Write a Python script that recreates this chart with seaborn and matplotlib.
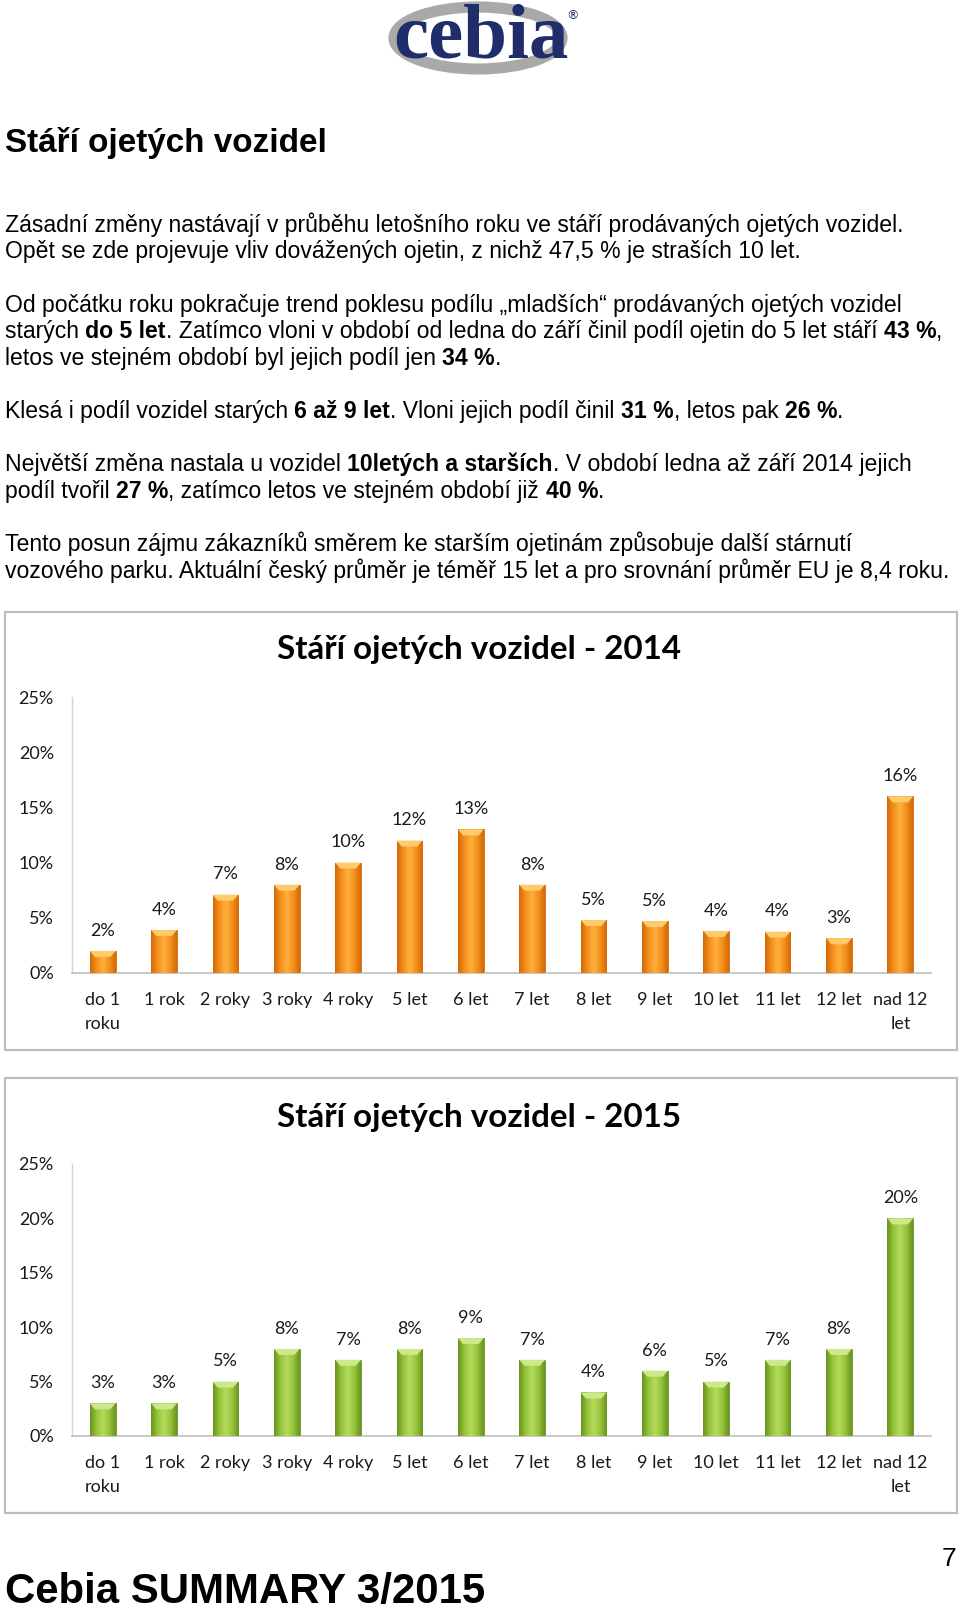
import numpy as np
import pandas as pd
import matplotlib
matplotlib.use("Agg")
import matplotlib.pyplot as plt
import seaborn as sns
from matplotlib.patches import Rectangle, Ellipse, Polygon
from matplotlib.colors import LinearSegmentedColormap

# ---------------- data ----------------
categories = ["do 1\nroku", "1 rok", "2 roky", "3 roky", "4 roky", "5 let", "6 let",
              "7 let", "8 let", "9 let", "10 let", "11 let", "12 let", "nad 12\nlet"]
values_2014 = [2.0, 3.9, 7.1, 8.0, 10.0, 12.0, 13.0, 8.0, 4.8, 4.7, 3.8, 3.75, 3.15, 16.0]
values_2015 = [3.0, 3.0, 5.0, 8.0, 7.0, 8.0, 9.0, 7.0, 4.0, 6.0, 5.0, 7.0, 8.0, 20.0]
y_ticks = [0, 5, 10, 15, 20, 25]
y_tick_labels = ["0%", "5%", "10%", "15%", "20%", "25%"]
titles = ["Stáří ojetých vozidel - 2014", "Stáří ojetých vozidel - 2015"]

heading = "Stáří ojetých vozidel"
paragraph_lines = [
    [("Zásadní změny nastávají v průběhu letošního roku ve stáří prodávaných ojetých vozidel.", False)],
    [("Opět se zde projevuje vliv dovážených ojetin, z nichž 47,5 % je straších 10 let.", False)],
    [("Od počátku roku pokračuje trend poklesu podílu „mladších“ prodávaných ojetých vozidel", False)],
    [("starých ", False), ("do 5 let", True), (". Zatímco vloni v období od ledna do září činil podíl ojetin do 5 let stáří ", False), ("43 %", True), (",", False)],
    [("letos ve stejném období byl jejich podíl jen ", False), ("34 %", True), (".", False)],
    [("Klesá i podíl vozidel starých ", False), ("6 až 9 let", True), (". Vloni jejich podíl činil ", False), ("31 %", True), (", letos pak ", False), ("26 %", True), (".", False)],
    [("Největší změna nastala u vozidel ", False), ("10letých a starších", True), (". V období ledna až září 2014 jejich", False)],
    [("podíl tvořil ", False), ("27 %", True), (", zatímco letos ve stejném období již ", False), ("40 %", True), (".", False)],
    [("Tento posun zájmu zákazníků směrem ke starším ojetinám způsobuje další stárnutí", False)],
    [("vozového parku. Aktuální český průměr je téměř 15 let a pro srovnání průměr EU je 8,4 roku.", False)],
]
paragraph_baselines = [232, 258, 312, 338, 365, 418, 471, 498, 551, 578]

# ---------------- setup ----------------
W, H = 960, 1614
sns.set_theme(style="white")
plt.rcParams["font.family"] = ["Lato", "DejaVu Sans"]

fig = plt.figure(figsize=(W / 100, H / 100), dpi=100)
fig.patch.set_facecolor("white")
renderer = fig.canvas.get_renderer()


def fx(x):
    return x / W


def fy(y):
    return 1 - y / H


def text_width(s, size, weight="normal", family="Liberation Sans"):
    t = fig.text(0, 0, s + "|", fontsize=size, fontweight=weight, family=family)
    w1 = t.get_window_extent(renderer).width
    t.set_text("|")
    w2 = t.get_window_extent(renderer).width
    t.remove()
    return w1 - w2


def fit_size(s, target, weight="normal", family="Liberation Sans"):
    return 10 * target / text_width(s, 10, weight, family)


# ---------------- logo ----------------
fig.patches.append(Ellipse((fx(478), fy(38)), 168 / W, 62 / H, transform=fig.transFigure,
                           fill=False, edgecolor="#A9A9A9", linewidth=8, zorder=1))
fig.text(fx(481), fy(58), "cebia", family="Liberation Serif", fontweight="bold",
         fontsize=fit_size("cebia", 176, "bold", "Liberation Serif"), color="#1F2D6B",
         ha="center", va="baseline", zorder=2)
fig.text(fx(572), fy(16), "®", family="DejaVu Sans", fontsize=9, color="#1F2D6B",
         ha="center", va="center")

# ---------------- heading ----------------
hs = fit_size(heading, 322, "bold", "Liberation Sans")
fig.text(fx(5), fy(152), heading, family="Liberation Sans", fontweight="bold",
         fontsize=hs, color="black", va="baseline")

# ---------------- paragraph ----------------
ps = fit_size(paragraph_lines[0][0][0], 900, "normal", "Liberation Sans")
for runs, base in zip(paragraph_lines, paragraph_baselines):
    x = 5
    for s, bold in runs:
        w = "bold" if bold else "normal"
        fig.text(fx(x), fy(base), s, family="Liberation Sans", fontweight=w,
                 fontsize=ps, color="black", va="baseline")
        x += text_width(s, ps, w, "Liberation Sans")

# ---------------- charts ----------------
chart_font = ["Lato", "DejaVu Sans"]
ts = fit_size(titles[0], 405, "bold", "Lato")


def draw_chart(values, box, axes_y, title, title_y, c_edge, c_mid, c_light, c_top):
    bx0, by0, bx1, by1 = box
    fig.patches.append(Rectangle((fx(bx0), fy(by1)), (bx1 - bx0) / W, (by1 - by0) / H,
                                 transform=fig.transFigure, fill=False,
                                 edgecolor="#BDBDBD", linewidth=1.6, zorder=0))
    fig.text(fx(479), fy(title_y), title, family=chart_font, fontweight="bold",
             fontsize=ts, color="black", ha="center", va="center")
    top, bottom = axes_y
    ax = fig.add_axes([fx(72), fy(bottom), (931 - 72) / W, (bottom - top) / H])
    df = pd.DataFrame({"kategorie": categories, "podil": values})
    sns.barplot(data=df, x="kategorie", y="podil", color=c_mid, saturation=1,
                width=0.42, ax=ax, edgecolor=c_edge, linewidth=0.6, zorder=2)
    ax.set_facecolor("none")
    cmap = LinearSegmentedColormap.from_list("g", [c_edge, c_mid, c_light, c_mid, c_edge])
    grad = np.linspace(0, 1, 64)[None, :]
    px_per_unit = (bottom - top) / 25.0
    bevel = 6 / px_per_unit
    for bar in ax.patches:
        x0 = bar.get_x()
        w = bar.get_width()
        h = bar.get_height()
        im = ax.imshow(grad, cmap=cmap, aspect="auto", extent=(x0, x0 + w, 0, h),
                       zorder=3, interpolation="bilinear")
        im.set_clip_path(bar)
        ax.add_patch(Polygon([(x0, h), (x0 + w, h), (x0 + w * 0.8, h - bevel),
                              (x0 + w * 0.2, h - bevel)], closed=True,
                             facecolor=c_top, edgecolor="none", zorder=4))
        ax.annotate(f"{round(h)}%", (x0 + w / 2, h), xytext=(0, 14.5),
                    textcoords="offset points", ha="center", va="center",
                    fontsize=13, family=chart_font, color="#1A1A1A")
    ax.set_xlim(-0.5, len(categories) - 0.5)
    ax.set_ylim(0, 25)
    ax.set_yticks(y_ticks)
    ax.set_yticklabels(y_tick_labels, family=chart_font, fontsize=13, color="#1A1A1A")
    ax.set_xticks(range(len(categories)))
    ax.set_xticklabels(categories, family=chart_font, fontsize=13, color="#1A1A1A",
                       linespacing=1.6)
    ax.tick_params(axis="y", length=0, pad=13)
    ax.tick_params(axis="x", length=0, pad=14)
    ax.set_xlabel("")
    ax.set_ylabel("")
    for s in ["top", "right"]:
        ax.spines[s].set_visible(False)
    ax.spines["left"].set_color("#D4D4D4")
    ax.spines["left"].set_linewidth(1.0)
    ax.spines["bottom"].set_color("#BFBFBF")
    ax.spines["bottom"].set_linewidth(1.2)
    ax.grid(False)
    return ax


draw_chart(values_2014, (5, 612, 957, 1050), (697, 973), titles[0], 650,
           "#D46A08", "#F58F1B", "#FFB040", "#FFCB6B")
draw_chart(values_2015, (5, 1078, 957, 1513), (1164, 1436), titles[1], 1118,
           "#6A9420", "#96C43A", "#B5DA5E", "#CDE88A")

# ---------------- footer ----------------
fs = fit_size("Cebia SUMMARY 3/2015", 481, "bold", "Liberation Sans")
fig.text(fx(5), fy(1603), "Cebia SUMMARY 3/2015", family="Liberation Sans",
         fontweight="bold", fontsize=fs, color="black", va="baseline")
fig.text(fx(949), fy(1559), "7", family="Liberation Sans", fontsize=19,
         color="black", ha="center", va="center")

fig.savefig("out.png", dpi=100, facecolor="white")
